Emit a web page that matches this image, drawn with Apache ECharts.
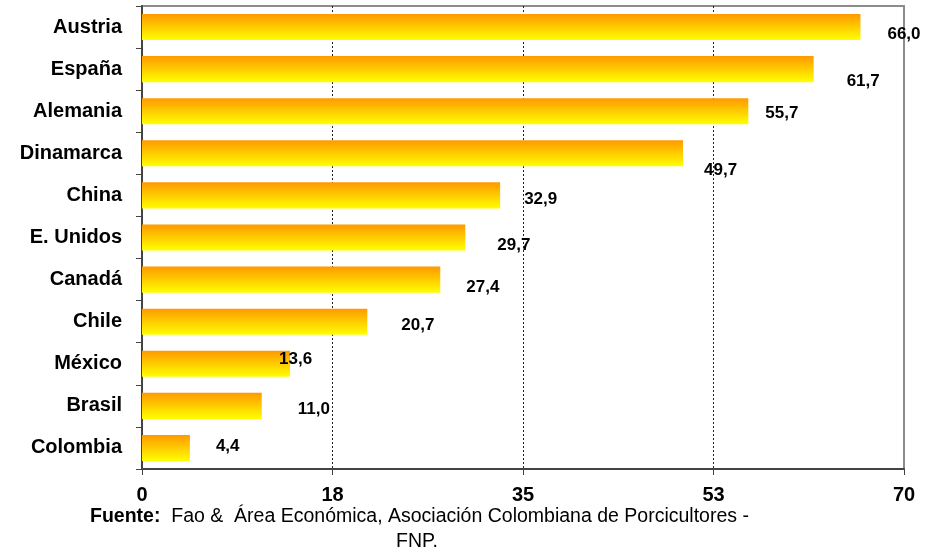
<!DOCTYPE html>
<html>
<head>
<meta charset="utf-8">
<script src="https://cdn.jsdelivr.net/npm/echarts@6/dist/echarts.min.js"></script>
<style>
  html, body { margin: 0; padding: 0; background: #fff; }
  #main { width: 926px; height: 550px; }
</style>
</head>
<body>
<div id="main"></div>
<script>
// datos
var paises = ['Austria', 'España', 'Alemania', 'Dinamarca', 'China', 'E. Unidos', 'Canadá', 'Chile', 'México', 'Brasil', 'Colombia'];
var valores = [66.0, 61.7, 55.7, 49.7, 32.9, 29.7, 27.4, 20.7, 13.6, 11.0, 4.4];
var ticks = [0, 18, 35, 53, 70];

// desplazamiento de etiquetas (como en la imagen original)
var labelOffsets = [[27, 7], [33, 12], [17, 2], [21, 17], [24, 4], [32, 8], [26, 8], [34, 4], [-11, -4], [36, 3], [26, -2]];

var myChart = echarts.init(document.getElementById('main'));

var barColor = new echarts.graphic.LinearGradient(0, 0, 0, 1, [
    { offset: 0, color: '#FF9900' },
    { offset: 1, color: '#FFFF00' }
]);

var fuente = 'Liberation Sans, Arial';

var option = {
    animation: false,
    grid: {
        left: 142, right: 22, top: 6, bottom: 81,
        show: true, borderColor: '#8c8c8c', borderWidth: 2
    },
    xAxis: {
        type: 'value',
        min: 0, max: 70, interval: 17.5,
        axisLine: { show: true, lineStyle: { color: '#444', width: 2 } },
        axisTick: { show: true, length: 6, lineStyle: { color: '#444', width: 1 } },
        axisLabel: {
            color: '#000', fontFamily: fuente, fontWeight: 'bold', fontSize: 20, margin: 16,
            formatter: function (v) { return ticks[Math.round(v / 17.5)]; }
        },
        splitLine: { show: true, showMinLine: false, showMaxLine: false, lineStyle: { color: '#222', type: [2, 2], width: 1 } }
    },
    yAxis: {
        type: 'category',
        inverse: true,
        data: paises,
        axisLine: { show: true, lineStyle: { color: '#444', width: 2 } },
        axisTick: { show: true, length: 6, lineStyle: { color: '#444' } },
        axisLabel: { color: '#000', fontFamily: fuente, fontWeight: 'bold', fontSize: 20, margin: 20 }
    },
    series: [{
        type: 'bar',
        barCategoryGap: '38%',
        itemStyle: { color: barColor },
        data: valores.map(function (v, i) {
            return {
                value: v,
                label: { offset: labelOffsets[i] }
            };
        }),
        label: {
            show: true,
            position: 'right',
            distance: 0,
            color: '#000',
            fontFamily: fuente,
            fontWeight: 'bold',
            fontSize: 17,
            formatter: function (p) { return p.value.toFixed(1).replace('.', ','); }
        }
    }],
    graphic: [
        {
            type: 'text', left: 90, top: 507,
            style: {
                text: '{b|Fuente:}  Fao &  Área Económica, Asociación Colombiana de Porcicultores -',
                fontFamily: fuente, fontSize: 19.5, fill: '#000',
                rich: { b: { fontWeight: 'bold', fontSize: 19.5, fontFamily: fuente } }
            }
        },
        {
            type: 'text', left: 396, top: 532,
            style: { text: 'FNP.', fontFamily: fuente, fontSize: 19.5, fill: '#000' }
        }
    ]
};

myChart.setOption(option);
</script>
</body>
</html>
